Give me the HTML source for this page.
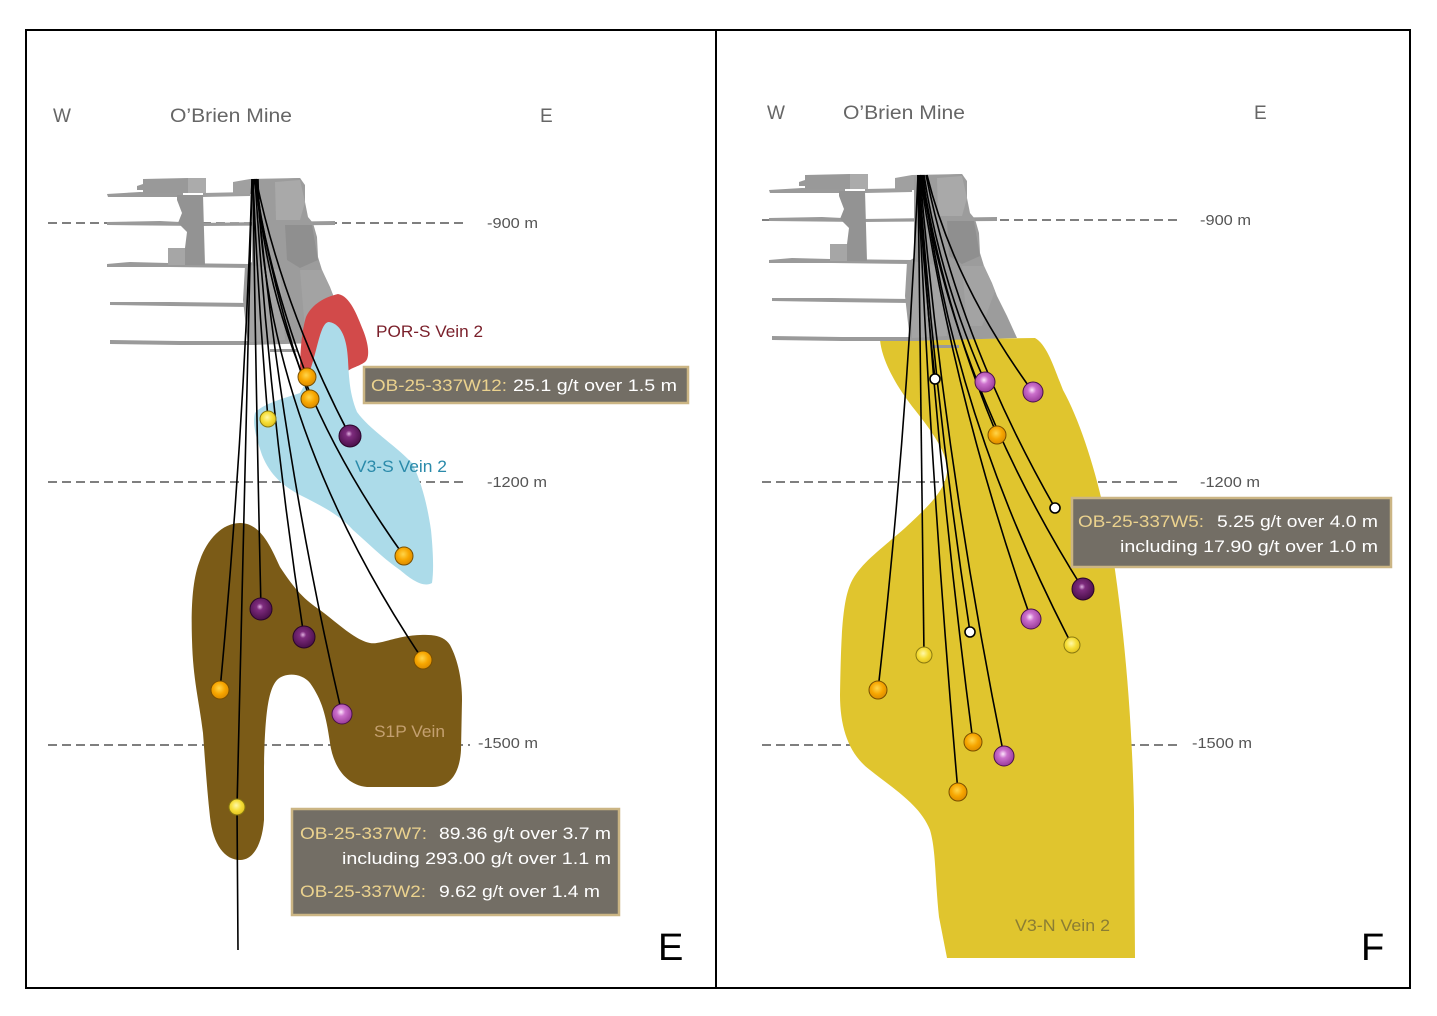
<!DOCTYPE html>
<html><head><meta charset="utf-8"><style>
html,body{margin:0;padding:0;background:#fff;}
svg{display:block;}
text{font-family:"Liberation Sans",sans-serif;}
</style></head><body>
<svg width="1437" height="1016" viewBox="0 0 1437 1016" xmlns="http://www.w3.org/2000/svg">
<defs>
<radialGradient id="gO" cx="45%" cy="40%" r="60%"><stop offset="0" stop-color="#ffd54a"/><stop offset="0.55" stop-color="#f7a600"/><stop offset="1" stop-color="#dc8c00"/></radialGradient>
<radialGradient id="gY" cx="45%" cy="40%" r="60%"><stop offset="0" stop-color="#fff8a8"/><stop offset="0.55" stop-color="#f6de36"/><stop offset="1" stop-color="#e2c220"/></radialGradient>
<radialGradient id="gD" cx="45%" cy="40%" r="60%"><stop offset="0" stop-color="#e0b0e0"/><stop offset="0.25" stop-color="#7e2c7e"/><stop offset="1" stop-color="#4a0f4a"/></radialGradient>
<radialGradient id="gP" cx="45%" cy="40%" r="60%"><stop offset="0" stop-color="#fde6fd"/><stop offset="0.35" stop-color="#cc70cc"/><stop offset="1" stop-color="#9a3c9a"/></radialGradient>
<g id="mine">
  <path d="M107,194 L140,192 L183,193 L183,197 L140,197 L108,197 Z" fill="#9a9a9a"/>
  <path d="M203,193 L250,192 L250,196 L203,197 Z" fill="#9e9e9e"/>
  <path d="M107,222 L160,221 L200,223 L335,221 L335,225 L200,226 L107,225 Z" fill="#9a9a9a"/>
  <path d="M107,264 L130,262 L168,263 L250,264 L250,268 L170,267 L107,267 Z" fill="#9a9a9a"/>
  <path d="M110,302 L170,302 L250,303 L250,307 L170,306 L110,305 Z" fill="#9a9a9a"/>
  <path d="M110,340 L180,341 L257,341 L257,345 L180,345 L110,344 Z" fill="#9a9a9a"/>
  <path d="M270,349 L297,349 L297,352 L270,352 Z" fill="#9a9a9a"/>
  <path d="M143,179 L188,178 L188,193 L143,193 Z" fill="#999"/>
  <path d="M188,178 L206,178 L206,193 L188,193 Z" fill="#ababab"/>
  <path d="M137,186 L143,184 L143,190 L137,190 Z" fill="#999"/>
  <path d="M177,195 L203,195 L205,265 L168,265 L168,248 L185,248 L187,232 L178,223 L182,213 L177,200 Z" fill="#939393"/>
  <path d="M168,248 L185,248 L185,265 L168,265 Z" fill="#a6a6a6"/>
  <path d="M233,182 L250,179 L300,178 L305,185 L305,194 L233,194 Z" fill="#a0a0a0"/>
  <path d="M252,180 L300,178 L305,186 L305,202 L308,217 L313,223 L317,237 L318,257 L322,270 L330,287 L335,300 L345,320 L355,342 L248,345 L243,300 L245,266 L252,262 Z" fill="#9c9c9c"/>
  <path d="M275,182 L300,180 L305,202 L300,220 L276,220 Z" fill="#a9a9a9"/>
  <path d="M285,225 L312,225 L318,260 L300,268 L287,260 Z" fill="#8f8f8f"/>
  <path d="M300,270 L322,270 L333,295 L320,330 L305,330 Z" fill="#a3a3a3"/>
  <path d="M250,265 L280,270 L285,340 L250,342 Z" fill="#a4a4a4"/>
</g>
</defs>

<g stroke="#555" stroke-width="1.4" stroke-dasharray="9,5" fill="none">
  <line x1="48" y1="223" x2="465" y2="223"/>
  <line x1="48" y1="482" x2="465" y2="482"/>
  <line x1="48" y1="745" x2="470" y2="745"/>
  <line x1="762" y1="220" x2="1180" y2="220"/>
  <line x1="762" y1="482" x2="1180" y2="482"/>
  <line x1="762" y1="745" x2="1178" y2="745"/>
</g>

<!-- LEFT -->
<path d="M240,523 C260,523 270,545 280,567 C295,590 305,600 320,610 C340,625 355,640 370,643 C380,645 395,636 420,635 C435,634 445,637 450,645 C458,660 462,680 462,700 L461,750 C460,770 452,787 433,787 L367,787 C345,785 333,765 330,743 C326,715 322,700 310,683 C302,673 285,672 277,680 C268,690 265,715 264,767 L264,820 C262,845 253,860 240,860 C225,860 213,845 210,817 C207,790 205,760 203,733 C199,700 193,680 192,640 C191,610 192,580 200,560 C207,540 222,523 240,523 Z" fill="#7b5b17"/>
<use href="#mine"/>
<path d="M300,372 C300,350 302,330 306,317 C312,304 325,297 338,294 C350,296 357,315 363,330 C369,345 370,358 365,362 C358,367 350,368 347,372 Z" fill="#d24a4a"/>
<path d="M329,322 C342,324 347,340 348,360 C349,380 350,395 357,412 C370,430 395,445 412,463 C423,485 428,510 431,530 C433,550 434,570 432,583 C425,587 415,583 400,570 C385,560 370,545 353,530 C340,515 320,505 300,495 C283,486 270,475 262,455 C257,440 252,425 255,413 C262,404 285,398 300,393 C308,380 312,365 316,350 C320,335 323,322 329,322 Z" fill="#acdbe9"/>

<!-- RIGHT vein -->
<path d="M880,340 C882,360 895,385 915,410 C935,435 948,455 947,472 C945,490 930,505 905,528 C880,550 858,565 850,585 C842,605 841,640 840,695 C840,730 850,755 870,770 C895,790 920,805 930,830 C936,850 935,880 939,917 L947,958 L1135,958 L1134,810 C1132,720 1125,640 1115,570 C1105,500 1085,430 1063,390 C1053,365 1047,345 1035,338 Z" fill="#e0c52e"/>
<use href="#mine" transform="translate(662,-4)"/>

<!-- LEFT drill holes -->
<g stroke="#000" stroke-width="1.6" fill="none">
  <path d="M254,179 Q270,278 307,377"/>
  <path d="M255,179 Q271,289 310,399"/>
  <path d="M253,179 Q258,299 268,419"/>
  <path d="M256,179 Q283,308 350,436"/>
  <path d="M257,179 Q269,368 404,556"/>
  <path d="M253,179 Q256,394 261,609"/>
  <path d="M255,179 Q269,408 304,637"/>
  <path d="M258,179 Q262,420 423,660"/>
  <path d="M252,179 Q244,435 220,690"/>
  <path d="M256,179 Q280,447 342,714"/>
  <path d="M252,179 L237,807 L238,950"/>
</g>
<g stroke-width="1">
  <circle cx="307" cy="377" r="9" fill="url(#gO)" stroke="#7a5000"/>
  <circle cx="310" cy="399" r="9" fill="url(#gO)" stroke="#7a5000"/>
  <circle cx="268" cy="419" r="8" fill="url(#gY)" stroke="#8a7a10"/>
  <circle cx="350" cy="436" r="11" fill="url(#gD)" stroke="#2a052a"/>
  <circle cx="404" cy="556" r="9" fill="url(#gO)" stroke="#7a5000"/>
  <circle cx="261" cy="609" r="11" fill="url(#gD)" stroke="#2a052a"/>
  <circle cx="304" cy="637" r="11" fill="url(#gD)" stroke="#2a052a"/>
  <circle cx="423" cy="660" r="9" fill="url(#gO)" stroke="#7a5000"/>
  <circle cx="220" cy="690" r="9" fill="url(#gO)" stroke="#7a5000"/>
  <circle cx="342" cy="714" r="10" fill="url(#gP)" stroke="#4a104a"/>
  <circle cx="237" cy="807" r="8" fill="url(#gY)" stroke="#8a7a10"/>
</g>

<!-- RIGHT drill holes -->
<g stroke="#000" stroke-width="1.6" fill="none">
  <path d="M918,175 Q924,277 935,379"/>
  <path d="M924,175 Q940,279 985,382"/>
  <path d="M927,175 Q954,284 1033,392"/>
  <path d="M922,175 Q943,305 997,435"/>
  <path d="M926,175 Q960,342 1055,508"/>
  <path d="M921,175 Q953,382 1083,589"/>
  <path d="M920,175 Q953,397 1031,619"/>
  <path d="M919,175 Q935,404 970,632"/>
  <path d="M923,175 Q950,410 1072,645"/>
  <path d="M918,175 Q921,415 924,655"/>
  <path d="M918,175 Q907,433 878,690"/>
  <path d="M919,175 Q936,459 973,742"/>
  <path d="M920,175 Q945,466 1004,756"/>
  <path d="M918,175 Q931,484 958,792"/>
</g>
<g stroke-width="1">
  <circle cx="935" cy="379" r="5" fill="#fff" stroke="#000" stroke-width="1.6"/>
  <circle cx="985" cy="382" r="10" fill="url(#gP)" stroke="#4a104a"/>
  <circle cx="1033" cy="392" r="10" fill="url(#gP)" stroke="#4a104a"/>
  <circle cx="997" cy="435" r="9" fill="url(#gO)" stroke="#7a5000"/>
  <circle cx="1055" cy="508" r="5" fill="#fff" stroke="#000" stroke-width="1.6"/>
  <circle cx="1083" cy="589" r="11" fill="url(#gD)" stroke="#2a052a"/>
  <circle cx="1031" cy="619" r="10" fill="url(#gP)" stroke="#4a104a"/>
  <circle cx="970" cy="632" r="5" fill="#fff" stroke="#000" stroke-width="1.6"/>
  <circle cx="1072" cy="645" r="8" fill="url(#gY)" stroke="#8a7a10"/>
  <circle cx="924" cy="655" r="8" fill="url(#gY)" stroke="#8a7a10"/>
  <circle cx="878" cy="690" r="9" fill="url(#gO)" stroke="#7a5000"/>
  <circle cx="973" cy="742" r="9" fill="url(#gO)" stroke="#7a5000"/>
  <circle cx="1004" cy="756" r="10" fill="url(#gP)" stroke="#4a104a"/>
  <circle cx="958" cy="792" r="9" fill="url(#gO)" stroke="#7a5000"/>
</g>

<g fill="#666" font-size="19">
  <text x="53" y="122">W</text>
  <text x="170" y="122" textLength="122" lengthAdjust="spacingAndGlyphs">O’Brien Mine</text>
  <text x="540" y="122">E</text>
  <text x="767" y="119">W</text>
  <text x="843" y="119" textLength="122" lengthAdjust="spacingAndGlyphs">O’Brien Mine</text>
  <text x="1254" y="119">E</text>
</g>
<g fill="#555" font-size="15">
  <text x="487" y="228" textLength="51" lengthAdjust="spacingAndGlyphs">-900 m</text>
  <text x="487" y="487" textLength="60" lengthAdjust="spacingAndGlyphs">-1200 m</text>
  <text x="478" y="748" textLength="60" lengthAdjust="spacingAndGlyphs">-1500 m</text>
  <text x="1200" y="225" textLength="51" lengthAdjust="spacingAndGlyphs">-900 m</text>
  <text x="1200" y="487" textLength="60" lengthAdjust="spacingAndGlyphs">-1200 m</text>
  <text x="1192" y="748" textLength="60" lengthAdjust="spacingAndGlyphs">-1500 m</text>
</g>
<text x="376" y="337" font-size="17" fill="#7a1f2a" textLength="107" lengthAdjust="spacingAndGlyphs">POR-S Vein 2</text>
<text x="355" y="472" font-size="17" fill="#2a8aaa" textLength="92" lengthAdjust="spacingAndGlyphs">V3-S Vein 2</text>
<text x="374" y="737" font-size="17" fill="#c4a070" textLength="71" lengthAdjust="spacingAndGlyphs">S1P Vein</text>
<text x="1015" y="931" font-size="17" fill="#8b7d33" textLength="95" lengthAdjust="spacingAndGlyphs">V3-N Vein 2</text>

<rect x="364" y="367" width="324" height="36" fill="#736e65" stroke="#cbb584" stroke-width="2.5"/>
<text y="391" font-size="17">
  <tspan x="371" fill="#ebd28e" textLength="136" lengthAdjust="spacingAndGlyphs">OB-25-337W12:</tspan>
  <tspan x="513" fill="#fff" textLength="164" lengthAdjust="spacingAndGlyphs">25.1  g/t over 1.5 m</tspan>
</text>

<rect x="292" y="809" width="327" height="106" fill="#736e65" stroke="#cbb584" stroke-width="2.5"/>
<text y="839" font-size="17">
  <tspan x="300" fill="#ebd28e" textLength="127" lengthAdjust="spacingAndGlyphs">OB-25-337W7:</tspan>
  <tspan x="439" fill="#fff" textLength="172" lengthAdjust="spacingAndGlyphs">89.36 g/t over 3.7 m</tspan>
</text>
<text x="342" y="864" font-size="17" fill="#fff" textLength="269" lengthAdjust="spacingAndGlyphs">including 293.00 g/t over 1.1 m</text>
<text y="897" font-size="17">
  <tspan x="300" fill="#ebd28e" textLength="126" lengthAdjust="spacingAndGlyphs">OB-25-337W2:</tspan>
  <tspan x="439" fill="#fff" textLength="161" lengthAdjust="spacingAndGlyphs">9.62 g/t over 1.4 m</tspan>
</text>

<rect x="1072" y="498" width="319" height="69" fill="#736e65" stroke="#cbb584" stroke-width="2.5"/>
<text y="527" font-size="17">
  <tspan x="1078" fill="#ebd28e" textLength="126" lengthAdjust="spacingAndGlyphs">OB-25-337W5:</tspan>
  <tspan x="1217" fill="#fff" textLength="161" lengthAdjust="spacingAndGlyphs">5.25 g/t over 4.0 m</tspan>
</text>
<text x="1120" y="552" font-size="17" fill="#fff" textLength="258" lengthAdjust="spacingAndGlyphs">including 17.90 g/t over 1.0 m</text>

<text x="658" y="960" font-size="38" fill="#000">E</text>
<text x="1361" y="960" font-size="38" fill="#000">F</text>

<rect x="26" y="30" width="1384" height="958" fill="none" stroke="#000" stroke-width="2"/>
<line x1="716" y1="30" x2="716" y2="988" stroke="#000" stroke-width="2"/>
</svg>
</body></html>
